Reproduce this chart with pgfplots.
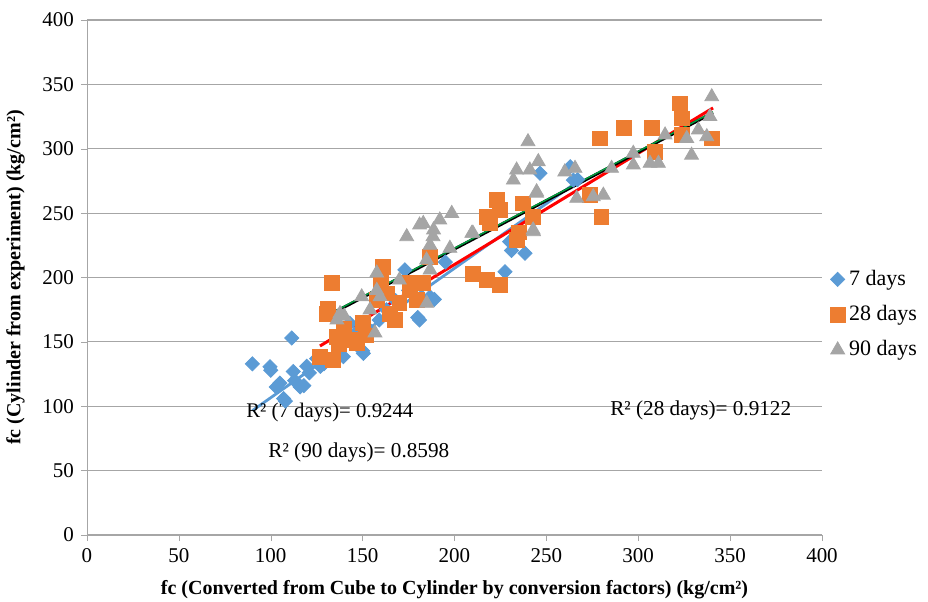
\documentclass[border=0pt]{standalone}
\usepackage{pgfplots}
\pgfplotsset{compat=1.18}
\usepackage{fontspec}
\setmainfont{Liberation Serif}
\definecolor{cblue}{HTML}{5B9BD5}
\definecolor{corange}{HTML}{ED7D31}
\definecolor{cgray}{HTML}{A5A5A5}
\definecolor{cgrid}{HTML}{A6A6A6}
\definecolor{cgreen}{HTML}{00A040}
\begin{document}
\begin{tikzpicture}
\useasboundingbox (-43.5pt,-33pt) rectangle (420.5pt,267.5pt);
\begin{axis}[
  at={(0,0)}, anchor=south west,
  scale only axis, width=367.5pt, height=257.5pt,
  xmin=0, xmax=400, ymin=0, ymax=400,
  xtick={0,50,...,400}, ytick={0,50,...,400},
  axis x line=bottom, axis y line=left,
  axis line style={cgrid, -},
  x axis line style={-}, y axis line style={-},
  tick align=outside, tick style={cgrid, major tick length=3pt},
  ymajorgrids, grid style={cgrid, line width=0.6pt},
  /pgf/number format/assume math mode=true,
  tick label style={font=\fontsize{10.5}{12}\selectfont},
  xlabel={fc (Converted from Cube to Cylinder by conversion factors) (kg/cm²)},
  ylabel={fc (Cylinder from experiment) (kg/cm²)},
  label style={font=\bfseries\fontsize{10}{12}\selectfont},
  xlabel style={yshift=-2pt},
  ylabel style={yshift=2pt},
  legend style={at={(1.008,0.428)}, anchor=west, draw=none, fill=none,
    font=\fontsize{11}{13}\selectfont, row sep=4.5pt, inner xsep=1pt,
    /tikz/every even column/.append style={xshift=-2.5pt}},
  legend cell align=left,
  clip=false,
]
\addplot[only marks, mark=square*, mark size=2.5pt, mark options={rotate=45, fill=cblue, draw=cblue}] coordinates {
(90,133) (99.6,130.7) (100,128) (103,115) (105,118) (107,106) (108,104)
(111.4,153) (112.3,127) (113,120) (116,115) (118,116) (119.6,131) (121,126)
(125,137) (127,131) (129,133) (134,137) (138,148) (139.5,138.5) (143,164.5)
(143,151) (147,158) (150.4,141) (150,143) (154,159) (159,167) (163,175)
(168,182) (173,206) (175,190) (180,169) (181,167) (186.7,185) (189,183)
(195,212) (227.5,204.5) (230,227.8) (231,221) (238.4,218.8) (246.5,281)
(264.7,275.7) (267,276) (263,286)
};
\addlegendentry{7 days}
\addplot[only marks, mark=square*, mark size=3.7pt, mark options={fill=corange, draw=corange}] coordinates {
(126.8,138.5) (130.4,172) (131.3,176) (133.2,195.5) (134,136) (135.9,154)
(137,148) (140,160) (143,151.5) (146.8,149) (150,164.5) (152,155)
(157.7,182.5) (160,198) (161,208) (163,187.7) (165,172) (167.6,167)
(170,180) (175.8,190) (175.8,195.5) (179.4,182.5) (183,195.7) (186.7,216)
(210,203) (217.5,198) (217.5,247) (219.3,242) (223,260) (224.8,252.4)
(224.8,194) (233.8,229) (235,235) (237.4,257.6) (242.8,247) (273.7,264)
(279,308) (280,247) (292.2,315.9) (307.3,315.9) (309,297.7) (322.7,335.3)
(323.6,323.6) (323.6,310.7) (340,308)
};
\addlegendentry{28 days}
\addplot[only marks, mark=triangle*, mark size=4pt, mark options={fill=cgray, draw=cgray}] coordinates {
(136,167) (137.7,172) (140,170) (149.5,185) (154,174.8) (156.7,157)
(157.7,203.5) (157.7,190) (159.5,185) (170,198) (174,231.7) (181,240.8)
(183,242) (184.8,213.6) (184.9,180) (186.7,205.8) (186.7,225) (188.3,231.7)
(188.6,237) (192,244.7) (197.5,222.7) (198.5,249.8) (209.4,234.3) (210,234.5)
(232,275.7) (233.8,283.5) (240,305.5) (241,283.5) (242.8,237) (243,235.6)
(244.7,265.5) (244.7,266.6) (245.6,290) (260,282) (265.6,284.8) (266.5,261.5)
(275.5,262.8) (281,264) (285.5,284.8) (297.3,296.5) (297.3,287.4) (306.4,288.7)
(311,288.7) (314.6,310.7) (326.4,308) (329,295) (332.7,314.6) (337.3,309.4)
(339,325) (340,340.4)
};
\addlegendentry{90 days}
\addplot[cblue, line width=1.4pt, forget plot] coordinates {(90,96.6) (267,274.5)};
\addplot[red, line width=1.5pt, forget plot] coordinates {(126.8,146.8) (340.7,331.7)};
\addplot[black, line width=1.5pt, forget plot] coordinates {(136,174) (340.7,328)};
\addplot[cgreen, line width=0.7pt, forget plot, yshift=0.4pt] coordinates {(136,174) (340.7,328)};
\node[anchor=west, font=\fontsize{10.4}{12}\selectfont, inner sep=0pt] at (axis cs:86.5,94.8) {R² (7 days)= 0.9244};
\node[anchor=west, font=\fontsize{10.6}{12}\selectfont, inner sep=0pt] at (axis cs:98.5,64.5) {R² (90 days)= 0.8598};
\node[anchor=west, font=\fontsize{10.6}{12}\selectfont, inner sep=0pt] at (axis cs:284.6,97) {R² (28 days)= 0.9122};
\end{axis}
\end{tikzpicture}
\end{document}
